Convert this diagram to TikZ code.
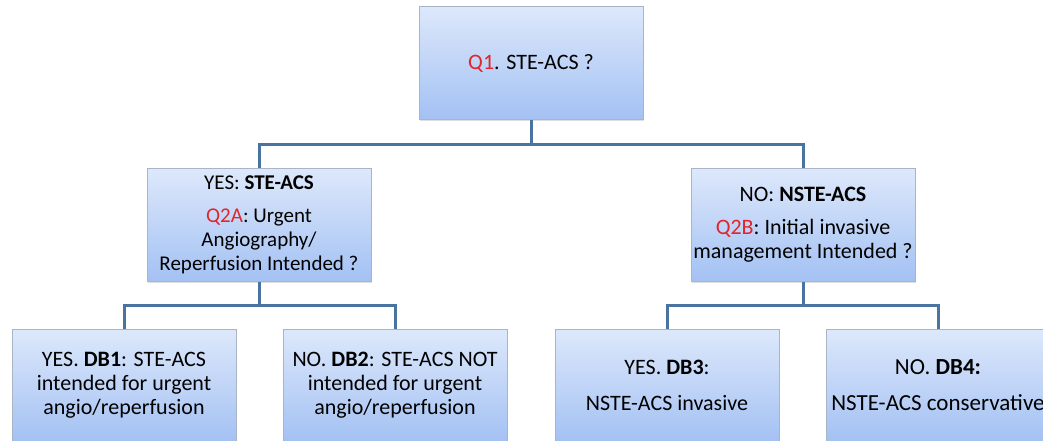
\documentclass[tikz,border=0pt]{standalone}
\usepackage{fontspec}
\setmainfont{Carlito}
\usetikzlibrary{shadows}
\definecolor{boxtop}{HTML}{DDE8FB}
\definecolor{boxbot}{HTML}{A3C1F3}
\definecolor{boxline}{HTML}{A9B4C4}
\definecolor{linkblue}{HTML}{4A74A0}
\definecolor{qred}{HTML}{E3242B}
\newcommand{\qtag}[1]{\textcolor{qred}{#1}}
\begin{document}
\begin{tikzpicture}[x=1pt, y=-1pt,
    box/.style={draw=boxline, line width=0.6pt, top color=boxtop, bottom color=boxbot,
        minimum width=224pt, minimum height=113pt, align=center, inner sep=2pt,
        font=\fontsize{22}{24}\selectfont,
        drop shadow={opacity=0.25, shadow xshift=1pt, shadow yshift=-1.5pt}},
    link/.style={draw=linkblue, line width=3pt}]
    \useasboundingbox (0,0) rectangle (1043,441);
    \clip (0,0) rectangle (1043,441);

    % question boxes
    \node[box] (q1) at (531,63) {\qtag{Q1}. STE-ACS ?};
    \node[box, font=\fontsize{21}{24}\selectfont] (q2a) at (259,225) {YES: \textbf{STE-ACS}\\[9pt]
        \qtag{Q2A}: Urgent\\ Angiography/\\ Reperfusion Intended ?};
    \node[box] (q2b) at (803,225) {NO: \textbf{NSTE-ACS}\\[9pt]
        \qtag{Q2B}: Initial invasive\\ management Intended ?};

    % decision boxes
    \node[box] (db1) at (124,385.5) {YES. \textbf{DB1}: STE-ACS\\ intended for urgent\\ angio/reperfusion};
    \node[box] (db2) at (395,385.5) {NO. \textbf{DB2}: STE-ACS NOT\\ intended for urgent\\ angio/reperfusion};
    \node[box] (db3) at (667,385.5) {YES. \textbf{DB3}:\\[12pt] NSTE-ACS invasive};
    \node[box, font=\fontsize{23}{24}\selectfont] (db4) at (938,385.5) {NO. \textbf{DB4:}\\[12pt] NSTE-ACS conservative};

    % connectors
    \coordinate (j1) at (531,144);
    \coordinate (j2) at (259,305);
    \coordinate (j3) at (803,305);
    \draw[link] (q1.south) -- (j1);
    \draw[link] (q2a.north) |- (j1) -| (q2b.north);
    \draw[link] (q2a.south) -- (j2);
    \draw[link] (db1.north) |- (j2) -| (db2.north);
    \draw[link] (q2b.south) -- (j3);
    \draw[link] (db3.north) |- (j3) -| (db4.north);
\end{tikzpicture}
\end{document}
